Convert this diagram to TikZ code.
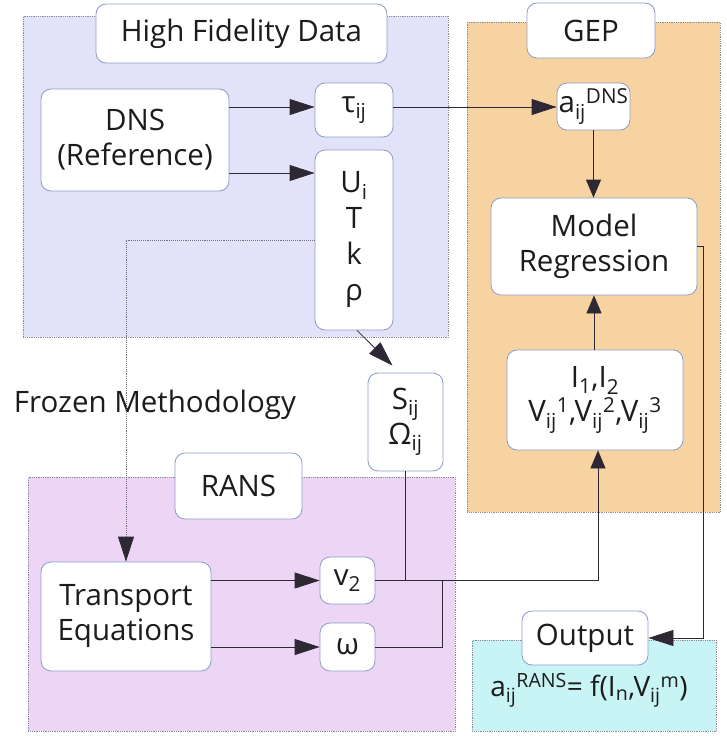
\documentclass[tikz,border=0pt]{standalone}
\usepackage{fontspec}
\setmainfont{Open Sans}
\usetikzlibrary{arrows.meta,calc}
\definecolor{hfdfill}{HTML}{E2E2F9}
\definecolor{gepfill}{HTML}{F6D3A0}
\definecolor{ransfill}{HTML}{EDD5F6}
\definecolor{outfill}{HTML}{C9F4F6}
\definecolor{boxline}{HTML}{8C9CC8}
\definecolor{regline}{HTML}{8A8A9A}
\definecolor{ink}{HTML}{1C1C1C}
\definecolor{wire}{HTML}{2E2834}
\newcommand\lsub[1]{\textsubscript{#1}}
\newcommand\supsub[2]{\textsubscript{#1}\textsuperscript{#2}}
\begin{document}
\begin{tikzpicture}[x=1pt,y=-1pt,
  region/.style={draw=regline, densely dotted, line width=0.8pt, inner sep=0pt},
  box/.style={draw=boxline, fill=white, rounded corners=10pt, line width=0.8pt, inner sep=0pt, align=center, text=ink, font=\fontsize{29.5}{35}\selectfont},
  arr/.style={draw=wire, line width=0.8pt, -{Triangle[length=25pt,width=16pt]}},
  sarr/.style={draw=wire, line width=0.8pt, -{Triangle[length=18pt,width=15pt]}},
  wireln/.style={draw=wire, line width=0.8pt},
  froz/.style={draw=regline!80!black, densely dotted, line width=0.9pt, -{Triangle[length=25pt,width=16pt,color=wire]}}]
\useasboundingbox (0,0) rectangle (727,736);
\fill[white] (0,0) rectangle (727,736);
% regions
\node[region, fill=hfdfill, minimum width=425pt, minimum height=321pt, anchor=north west] (hfd) at (23,16) {};
\node[region, fill=gepfill, minimum width=253pt, minimum height=490pt, anchor=north west] (gep) at (467,22) {};
\node[region, fill=ransfill, minimum width=427pt, minimum height=254pt, anchor=north west] (rans) at (28,477) {};
\node[region, fill=outfill, minimum width=244pt, minimum height=91pt, anchor=north west] (outr) at (472,640) {};
% boxes
\node[box, minimum width=291pt, minimum height=59pt] (hfdT) at (241.5,33.5) {High Fidelity Data};
\node[box, minimum width=188pt, minimum height=102pt] (dns) at (135,140) {DNS\\(Reference)};
\node[box, minimum width=78pt, minimum height=54pt] (tau) at (354,110) {τ\lsub{ij}};
\node[box, minimum width=78pt, minimum height=180pt, font=\fontsize{29.5}{36}\selectfont] (U) at (354,240) {U\lsub{i}\\T\\k\\ρ};
\node[box, minimum width=128pt, minimum height=55pt] (gepT) at (591,30.5) {GEP};
\node[box, minimum width=73pt, minimum height=47pt] (aDNS) at (593.5,106.5) {a\supsub{ij}{DNS}};
\node[box, minimum width=206pt, minimum height=97pt] (model) at (594,246.5) {Model\\Regression};
\node[box, minimum width=176pt, minimum height=100pt, font=\fontsize{29.5}{34}\selectfont] (inv) at (595,400) {I\lsub{1},I\lsub{2}\\V\supsub{ij}{1},V\supsub{ij}{2},V\supsub{ij}{3}};
\node[box, minimum width=75pt, minimum height=98pt, font=\fontsize{29.5}{35}\selectfont] (S) at (405.5,422) {S\lsub{ij}\\Ω\lsub{ij}};
\node[box, minimum width=127pt, minimum height=66pt] (ransT) at (238.5,486) {RANS};
\node[box, minimum width=170pt, minimum height=109pt] (trans) at (126,616.5) {Transport\\Equations};
\node[box, minimum width=55pt, minimum height=47pt] (v2) at (347.5,580.5) {v\lsub{2}};
\node[box, minimum width=55pt, minimum height=48pt] (om) at (347.5,647) {ω};
\node[box, minimum width=126pt, minimum height=54pt] (outT) at (585,638) {Output};
\node[text=ink, font=\fontsize{28}{34}\selectfont, inner sep=0pt] (form) at (589,690) {a\supsub{ij}{RANS}= f(I\lsub{n},V\supsub{ij}{m})};
\node[text=ink, font=\fontsize{29.5}{35}\selectfont, inner sep=0pt] (frozen) at (155,405) {Frozen Methodology};
% connectors
\coordinate (jx) at (442,600);
\draw[arr] ([yshift=3pt]dns.east |- tau.west) -- ([yshift=3pt]tau.west);
\draw[arr] ([yshift=-33pt]dns.east) -- ([yshift=-33pt]dns.east -| U.west);
\draw[arr] ([yshift=3pt]tau.east) -- ([yshift=3pt]tau.east -| aDNS.west);
\draw[sarr] (aDNS.south) -- (aDNS.south |- model.north);
\draw[sarr] (model.south |- inv.north) -- (model.south);
\draw[arr] ([xshift=3pt]U.south) -- ([xshift=-13pt,yshift=7pt]S.north);
\draw[wireln] (S.south) -- (S.south |- v2.east);
\draw[sarr] (v2.east) -- ([xshift=3pt]v2.east -| inv.south) -- ([xshift=3pt]inv.south);
\draw[wireln] (om.east) -- (om.east -| jx) -- (jx |- v2.east);
\draw[arr] (model.east) -- ++(6,0) |- (outT.east);
\draw[froz] (U.west) -| (trans.north);
\draw[arr] (trans.east |- v2.west) -- (v2.west);
\draw[arr] (trans.east |- om.west) -- (om.west);
\end{tikzpicture}
\end{document}
